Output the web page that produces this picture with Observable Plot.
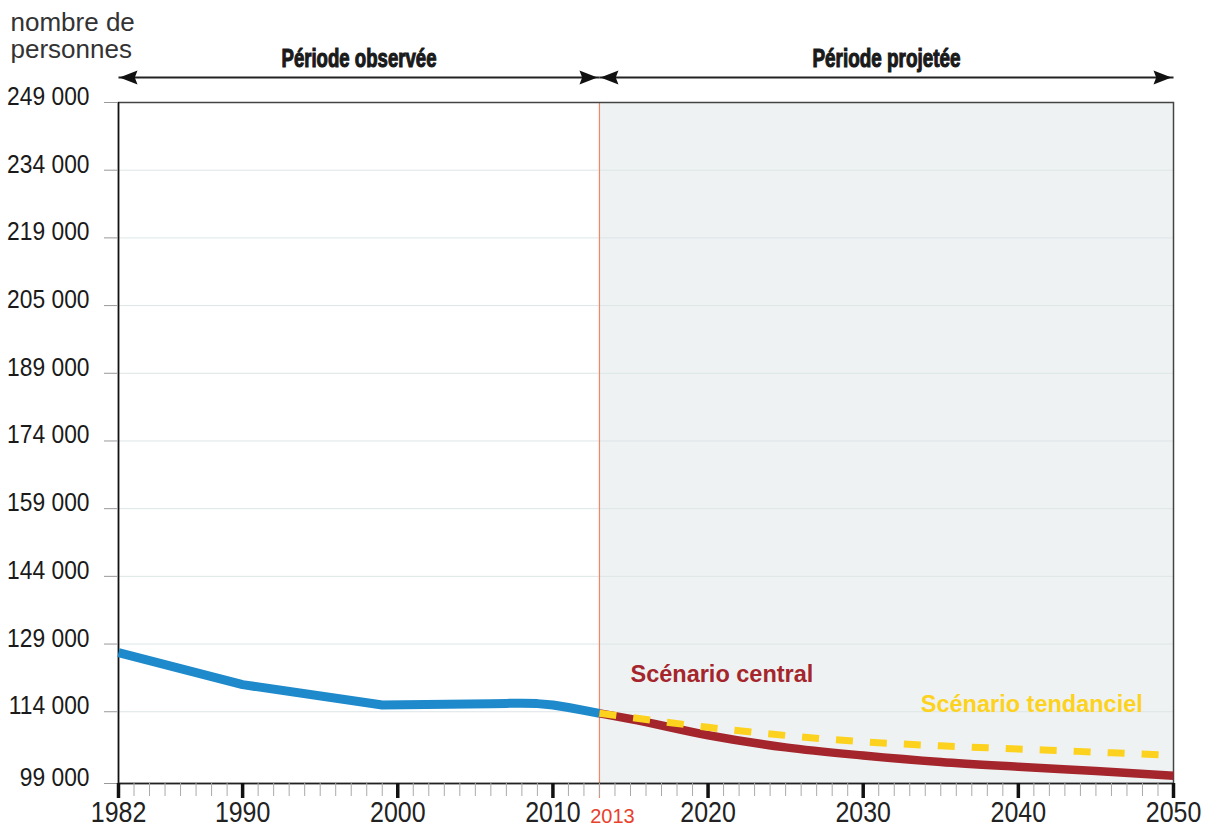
<!DOCTYPE html>
<html><head><meta charset="utf-8">
<script src="https://cdn.jsdelivr.net/npm/d3@7"></script>
<script src="https://cdn.jsdelivr.net/npm/@observablehq/plot@0.6"></script>
<style>
html,body{margin:0;padding:0;background:#fff;}
</style></head><body><div id="chart"></div>
<script>
// ---- data ----
const observedYears  = [1982, 1990, 1999, 2006, 2007, 2008, 2009, 2010, 2011, 2012, 2013];
const observedValues = [127100, 120000, 115500, 115750, 115850, 115900, 115800, 115500, 114950, 114300, 113650];
const projYears        = [2013, 2015, 2020, 2025, 2030, 2035, 2040, 2045, 2050];
const centralValues    = [113650, 112400, 108800, 106100, 104300, 102850, 101800, 100850, 99800];
const tendancielValues = [113650, 112750, 110550, 108750, 107350, 106450, 105750, 105050, 104300];
const yTickValues = [98100, 114000, 129000, 144000, 159000, 174000, 189000, 204000, 219000, 234000, 249000];
const yTickLabels = ["99 000", "114 000", "129 000", "144 000", "159 000", "174 000", "189 000", "205 000", "219 000", "234 000", "249 000"];
const xMajorTicks = [1982, 1990, 2000, 2010, 2020, 2030, 2040, 2050];
const xMinorTicks = d3.range(1982, 2051);
const projectionStart = 2013;
const periodNames = ["Période observée", "Période projetée"];
const periodStarts = [1982, 2013];
const periodEnds = [2013, 2050];
const scenarioNames = ["Scénario central", "Scénario tendanciel"];
const scenarioLabelYears = [2015, 2035];
const yTitle = "nombre de\npersonnes";

// ---- tables built from arrays ----
const observed = observedYears.map((year, i) => ({year, value: observedValues[i]}));
const central = projYears.map((year, i) => ({year, value: centralValues[i]}));
const tendanciel = projYears.map((year, i) => ({year, value: tendancielValues[i]}));
const periods = periodNames.map((label, i) => ({label, start: periodStarts[i], end: periodEnds[i]}));
const yTop = yTickValues[yTickValues.length - 1];
const yLabelOf = d => yTickLabels[yTickValues.indexOf(d)];

const SANS = "'Liberation Sans', Arial, sans-serif";

const arrowLen = 18, arrowHalf = 7;
const headLeft = {draw(ctx) { ctx.moveTo(0, 0); ctx.lineTo(arrowLen, -arrowHalf); ctx.lineTo(arrowLen * 0.85, 0); ctx.lineTo(arrowLen, arrowHalf); ctx.closePath(); }};
const headRight = {draw(ctx) { ctx.moveTo(0, 0); ctx.lineTo(-arrowLen, -arrowHalf); ctx.lineTo(-arrowLen * 0.85, 0); ctx.lineTo(-arrowLen, arrowHalf); ctx.closePath(); }};

const RED = "#a4262c", YEL = "#fdd21f", BLUE = "#1e8acb";

const plot = Plot.plot({
  width: 1205,
  height: 829,
  marginLeft: 118,
  marginRight: 32,
  marginTop: 102,
  marginBottom: 46,
  style: {fontFamily: SANS, background: "#fff", overflow: "visible"},
  x: {domain: [1982, 2050], axis: null},
  y: {domain: [yTickValues[0], yTop], axis: null},
  marks: [
    Plot.rect([{x1: projectionStart, x2: 2050}], {x1: "x1", x2: "x2", fill: "#eef2f3"}),
    Plot.gridY(yTickValues.slice(1), {stroke: "#dde5e6", strokeOpacity: 1, strokeWidth: 1}),
    Plot.ruleX([projectionStart], {stroke: "#f08866", strokeWidth: 1.2, insetBottom: -15}),
    Plot.frame({stroke: "#444", strokeWidth: 1.5}),
    Plot.ruleX([1982], {stroke: "#111", strokeWidth: 1.5}),
    Plot.ruleY([yTickValues[0]], {stroke: "#222", strokeWidth: 1.5}),
    // y axis
    Plot.axisY({ticks: yTickValues, tickSize: 14, stroke: "#999", fill: "none", label: null}),
    Plot.axisY({ticks: yTickValues, tickSize: 0, tickPadding: 29, stroke: "none", fill: "#1a1a1a",
      tickFormat: yLabelOf, fontSize: 26.5, fontFamily: SANS, dy: -6, label: null}),
    // x axis
    Plot.axisX({ticks: xMinorTicks, tickSize: 13, stroke: "#aaa", strokeWidth: 1, fill: "none", label: null}),
    Plot.axisX({ticks: xMajorTicks, tickSize: 15, stroke: "#111", strokeWidth: 3.5, fill: "none", label: null}),
    Plot.axisX({ticks: xMajorTicks, tickSize: 0, tickPadding: 18, stroke: "none", fill: "#222",
      tickFormat: d => String(d), fontSize: 29, fontFamily: SANS, label: null}),
    Plot.text([projectionStart], {x: d => d, frameAnchor: "bottom", lineAnchor: "middle", dy: 33, dx: 13,
      text: d => String(d), fill: "#e8412c", fontSize: 20, fontFamily: SANS}),
    // series
    Plot.line(observed, {x: "year", y: "value", stroke: BLUE, strokeWidth: 9, strokeLinejoin: "round", strokeLinecap: "butt"}),
    Plot.line(central, {x: "year", y: "value", stroke: RED, strokeWidth: 8.5, strokeLinecap: "butt", curve: "monotone-x"}),
    Plot.line(tendanciel, {x: "year", y: "value", stroke: YEL, strokeWidth: 7, strokeDasharray: "17,17", strokeLinecap: "butt", curve: "monotone-x"}),
    // scenario labels
    Plot.text([central.find(d => d.year === scenarioLabelYears[0])], {x: "year", y: "value", text: () => scenarioNames[0],
      textAnchor: "start", dy: -44, fill: RED, fontWeight: "bold", fontSize: 23.5, fontFamily: SANS}),
    Plot.text([tendanciel.find(d => d.year === scenarioLabelYears[1])], {x: "year", y: "value", text: () => scenarioNames[1],
      textAnchor: "start", dx: -20, dy: -41, fill: YEL, fontWeight: "bold", fontSize: 23.5, fontFamily: SANS}),
    // period arrows
    Plot.link(periods, {x1: "start", x2: "end", y1: () => yTop, y2: () => yTop, dy: -25, stroke: "#222", strokeWidth: 2}),
    Plot.dot(periods, {x: "start", y: () => yTop, dy: -25, dx: 1, symbol: headLeft, fill: "#111", stroke: "none", r: 5}),
    Plot.dot(periods, {x: "end", y: () => yTop, dy: -25, dx: -2, symbol: headRight, fill: "#111", stroke: "none", r: 5}),
    Plot.text(periods, {x: d => (d.start + d.end) / 2, y: () => yTop, dy: -44, text: "label",
      fill: "#1a1a1a", fontWeight: "bold", fontSize: 25, fontFamily: SANS}),
    // y title
    Plot.text([yTitle], {frameAnchor: "top-left", textAnchor: "start", lineAnchor: "top", lineHeight: 1.05,
      dx: -108, dy: -91, text: d => d, fill: "#333", fontSize: 26, fontFamily: SANS})
  ]
});

document.getElementById("chart").appendChild(plot);

// condensed look: squeeze axis labels horizontally
const root = d3.select(plot);
root.selectAll("g[aria-label='y-axis tick label'] text, g[aria-label='x-axis tick label'] text").each(function() {
  const w = this.getComputedTextLength();
  d3.select(this).attr("textLength", w * 0.86).attr("lengthAdjust", "spacingAndGlyphs");
});
// heavy condensed headings
root.selectAll("text").each(function() {
  const t = this.textContent;
  if (t === periodNames[0] || t === periodNames[1]) {
    const w = t === periodNames[0] ? 155 : 148;
    d3.select(this).attr("textLength", w).attr("lengthAdjust", "spacingAndGlyphs")
      .attr("stroke", "#1a1a1a").attr("stroke-width", 1.1).attr("paint-order", "stroke");
  }
});
</script>
</body></html>
